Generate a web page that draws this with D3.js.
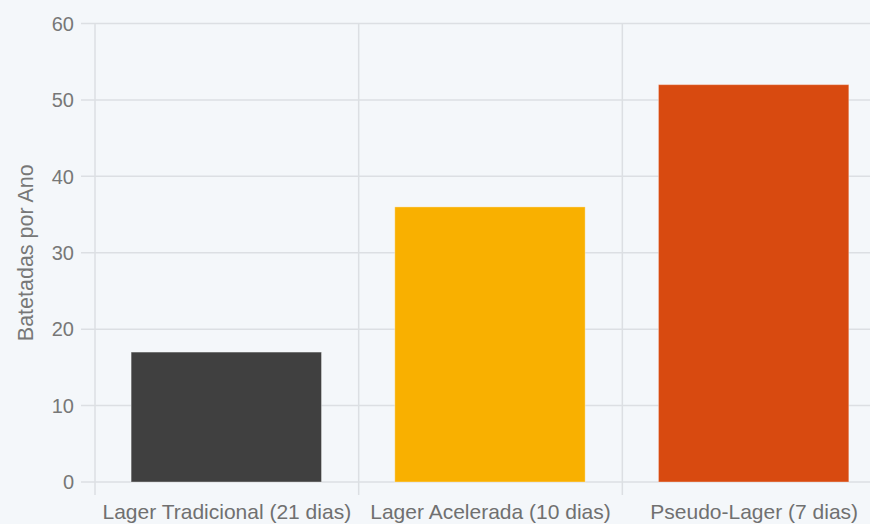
<!DOCTYPE html>
<html><head><meta charset="utf-8">
<script src="https://cdn.jsdelivr.net/npm/d3@7"></script>
<style>
html,body{margin:0;padding:0;background:#f4f7fa;overflow:hidden;}
svg{display:block;font-family:"Liberation Sans",Arial,sans-serif;}
</style></head><body>
<svg id="c" width="870" height="524"></svg>
<script>
const categories = ["Lager Tradicional (21 dias)", "Lager Acelerada (10 dias)", "Pseudo-Lager (7 dias)"];
const values = [17, 36, 52];
const colors = ["#404040", "#f9b000", "#d84a10"];
const yTicks = [0, 10, 20, 30, 40, 50, 60];
const yTitle = "Batetadas por Ano";

(function(){
const svg = d3.select("#c");
svg.append("rect").attr("width",870).attr("height",524).attr("fill","#f4f7fa");
const pL = 95, pR = 886, pT = 23.5, pB = 482;
const x = d3.scaleBand().domain(categories).range([pL, pR]).padding(0);
const y = d3.scaleLinear().domain([0, 60]).range([pB, pT]);
const grid = "#dcdfe3";

svg.append("g").selectAll("line").data(yTicks).join("line")
  .attr("x1", 81).attr("x2", pR)
  .attr("y1", d => y(d)).attr("y2", d => y(d))
  .attr("stroke", grid).attr("stroke-width", 1.5);
const bounds = categories.map(c => x(c)).concat([pR]);
svg.append("g").selectAll("line").data(bounds).join("line")
  .attr("x1", d => d).attr("x2", d => d)
  .attr("y1", pT).attr("y2", pB + 13)
  .attr("stroke", grid).attr("stroke-width", 1.5);

const bw = x.bandwidth();
svg.append("g").selectAll("rect").data(values).join("rect")
  .attr("x", (d,i) => x(categories[i]) + bw*0.137)
  .attr("width", bw*0.722)
  .attr("y", d => y(d))
  .attr("height", d => y(0) - y(d))
  .attr("fill", (d,i) => colors[i])
  .attr("stroke", "rgba(255,255,255,0.35)").attr("stroke-width", 1);

svg.append("g").selectAll("text").data(yTicks).join("text")
  .attr("x", 74).attr("y", d => y(d)).attr("dy", "0.36em")
  .attr("text-anchor", "end").attr("fill", "#777").attr("font-size", 20)
  .text(d => d);

svg.append("g").selectAll("text").data(categories).join("text")
  .attr("x", d => x(d) + bw/2).attr("y", 519)
  .attr("text-anchor", "middle").attr("fill", "#707070").attr("font-size", 21)
  .text(d => d);

svg.append("text").attr("transform", "translate(33," + ((pT+pB)/2) + ") rotate(-90)")
  .attr("text-anchor", "middle").attr("fill", "#777").attr("font-size", 21.5)
  .text(yTitle);
})();
</script></body></html>
